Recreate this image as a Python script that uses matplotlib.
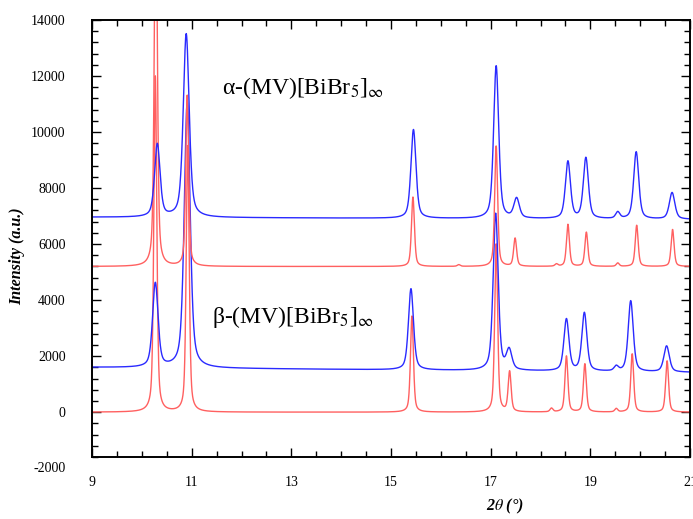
import numpy as np
import matplotlib.pyplot as plt

# datos: posicion (2theta), altura sobre la base, anchura (FWHM)
alpha_obs_pos = [10.31, 10.89, 15.45, 17.11, 17.52, 18.55, 18.91, 19.55, 19.92, 20.64]
alpha_obs_h = [2600, 6550, 3170, 5450, 700, 2040, 2170, 230, 2400, 950]
alpha_obs_w = [0.13, 0.14, 0.12, 0.12, 0.13, 0.12, 0.12, 0.10, 0.12, 0.13]
alpha_obs_base = [6960, 6880]

alpha_calc_pos = [10.28, 10.91, 16.36, 15.44, 17.11, 17.49, 18.32, 18.55, 18.92, 19.55, 19.93, 20.65]
alpha_calc_h = [14000, 6100, 60, 2480, 4300, 1000, 80, 1500, 1220, 120, 1470, 1320]
alpha_calc_w = [0.07, 0.07, 0.07, 0.07, 0.07, 0.07, 0.07, 0.07, 0.07, 0.07, 0.07, 0.07]
alpha_calc_base = [5200, 5200]

beta_obs_pos = [10.27, 10.91, 15.40, 17.10, 17.37, 18.52, 18.88, 19.52, 19.81, 20.53]
beta_obs_h = [3000, 9500, 2900, 5600, 700, 1850, 2080, 170, 2530, 930]
beta_obs_w = [0.13, 0.14, 0.12, 0.12, 0.13, 0.12, 0.12, 0.10, 0.12, 0.13]
beta_obs_base = [1600, 1420]

beta_calc_pos = [10.27, 10.92, 15.42, 17.11, 17.38, 18.22, 18.52, 18.89, 19.52, 19.84, 20.54]
beta_calc_h = [12000, 9500, 3430, 6000, 1430, 130, 2000, 1720, 120, 2080, 1830]
beta_calc_w = [0.07, 0.07, 0.07, 0.07, 0.07, 0.07, 0.07, 0.07, 0.07, 0.07, 0.07]
beta_calc_base = [0, 0]

xticks = [9, 11, 13, 15, 17, 19, 21]
yticks = [0, 2000, 4000, 6000, 8000, 10000, 12000, 14000]
ytick_extra = -2000

label_alpha = 'α-(MV)[BiBr$_5$]$_\\infty$'
label_beta = 'β-(MV)[BiBr$_5$]$_\\infty$'

plt.rcParams['font.family'] = ['Liberation Serif', 'DejaVu Serif']
plt.rcParams['mathtext.fontset'] = 'stix'

x = np.linspace(9, 21, 4001)


# perfil pseudo-Voigt a partir de la lista de picos
def perfil(pos, h, w, base, eta=0.5):
    y = np.interp(x, [9, 21], base)
    for p, a, f in zip(pos, h, w):
        g = np.exp(-4 * np.log(2) * (x - p) ** 2 / f ** 2)
        l = 1 / (1 + 4 * (x - p) ** 2 / f ** 2)
        y = y + a * (eta * l + (1 - eta) * g)
    return y


fig = plt.figure(figsize=(6.93, 5.19), dpi=100)
ax = fig.add_axes([0.1328, 0.1195, 0.8629, 0.842])

azul = '#2a2aff'
rojo = '#ff6060'
ax.plot(x, perfil(beta_calc_pos, beta_calc_h, beta_calc_w, beta_calc_base), color=rojo, lw=1)
ax.plot(x, perfil(beta_obs_pos, beta_obs_h, beta_obs_w, beta_obs_base), color=azul, lw=1)
ax.plot(x, perfil(alpha_calc_pos, alpha_calc_h, alpha_calc_w, alpha_calc_base), color=rojo, lw=1)
ax.plot(x, perfil(alpha_obs_pos, alpha_obs_h, alpha_obs_w, alpha_obs_base), color=azul, lw=1)

ax.set_xlim(9, 21)
ax.set_ylim(-1600, 14000)
ax.set_xticks(xticks)
ax.set_xticks(np.arange(9, 21.01, 0.5), minor=True)
ax.set_yticks(yticks)
ax.set_yticks(np.arange(-1600, 14001, 400), minor=True)
ax.tick_params(which='both', direction='in', top=True, right=True, labelsize=10, width=1)
ax.tick_params(which='major', length=6.5)
ax.tick_params(which='minor', length=4)
ax.tick_params(axis='y', pad=19)
ax.tick_params(axis='x', pad=14)
for s in ax.spines.values():
    s.set_linewidth(1.4)

# etiqueta -2000 bajo el eje (fuera del rango dibujado)
ax.annotate(str(ytick_extra), xy=(0, ytick_extra), xycoords=('axes fraction', 'data'),
            xytext=(-19, 0), textcoords='offset points', ha='right', va='center',
            fontsize=10, annotation_clip=False)

ax.set_ylabel('Intensity (a.u.)', fontsize=11.5, fontweight='bold', fontstyle='italic')
ax.yaxis.set_label_coords(-0.112, 0.46)
ax.set_xlabel(r'2$\theta$ (°)', fontsize=11.5, fontweight='bold', fontstyle='italic')
ax.xaxis.set_label_coords(0.69, -0.09)

ax.text(11.6, 11570, label_alpha, fontsize=17, va='center')
ax.text(11.4, 3400, label_beta, fontsize=17, va='center')

plt.savefig('out.png', dpi=100)
